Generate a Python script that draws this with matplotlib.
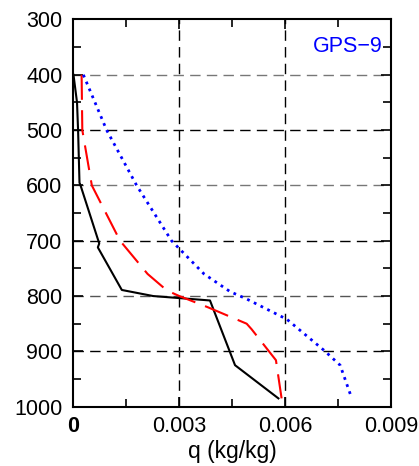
import numpy as np
import matplotlib
matplotlib.use("Agg")
import matplotlib.pyplot as plt
from matplotlib.ticker import MultipleLocator

plt.rcParams['font.family'] = ['Liberation Sans', 'DejaVu Sans']

# pressure levels (hPa) and specific humidity (kg/kg) for each profile
p_black = [400, 450, 500, 595, 600, 705, 712, 789, 800, 808, 925, 985]
q_black = [0.0, 0.0001, 0.00013, 0.00017, 0.0002, 0.00073, 0.00069, 0.00137, 0.00226, 0.00387, 0.00458, 0.00581]

p_red = [400, 500, 600, 700, 760, 790, 800, 820, 850, 860, 916, 985]
q_red = [0.00023, 0.00025, 0.00052, 0.00132, 0.0021, 0.00265, 0.003, 0.0038, 0.00491, 0.00505, 0.00574, 0.0059]

p_blue = [400, 500, 600, 700, 760, 792, 805, 842, 898, 925, 985]
q_blue = [0.00028, 0.00094, 0.00179, 0.00278, 0.0037, 0.00444, 0.0049, 0.00605, 0.0071, 0.00756, 0.00789]

xticks = [0, 0.003, 0.006, 0.009]
xticklabels = ["0", "0.003", "0.006", "0.009"]
yticks = [300, 400, 500, 600, 700, 800, 900, 1000]

fig = plt.figure(figsize=(4.19, 4.66), dpi=100)
ax = fig.add_axes([0.1754, 0.1273, 0.7576, 0.8309])

# grid lines (dashed)
for yv, col in zip([400, 500, 600, 700, 800, 900],
                   ["#777777", "black", "#777777", "black", "#555555", "black"]):
    ax.axhline(yv, color=col, lw=1.0, dashes=(7.5, 4.5), zorder=1)
for xv in [0.003, 0.006]:
    ax.axvline(xv, color="black", lw=1.0, dashes=(7.5, 4.5), zorder=1)

ax.plot(q_black, p_black, color="black", lw=1.5, zorder=3)
ax.plot(q_red, p_red, color="red", lw=1.5, dashes=(12, 5), zorder=3)
ax.plot(q_blue, p_blue, color="blue", lw=2.0, linestyle=(0, (1, 1.7)), zorder=3)

ax.set_xlim(0, 0.009)
ax.set_ylim(1000, 300)
ax.set_xticks(xticks)
ax.set_xticklabels(xticklabels)
ax.get_xticklabels()[0].set_fontweight("bold")
ax.set_yticks(yticks)
ax.xaxis.set_minor_locator(MultipleLocator(0.0015))
ax.yaxis.set_minor_locator(MultipleLocator(50))
ax.tick_params(which="both", direction="in", top=True, right=True, labelsize=15.5, width=1.2)
ax.tick_params(which="major", length=7)
ax.tick_params(which="minor", length=6)
ax.tick_params(axis="x", pad=7)
ax.tick_params(axis="y", pad=8)
for s in ax.spines.values():
    s.set_linewidth(1.5)

ax.set_xlabel("q (kg/kg)", fontsize=16.5, labelpad=2)
ax.text(0.975, 0.93, "GPS\u22129", color="blue", fontsize=15.5, ha="right", va="center",
        transform=ax.transAxes)

fig.savefig("out.png", dpi=100)
